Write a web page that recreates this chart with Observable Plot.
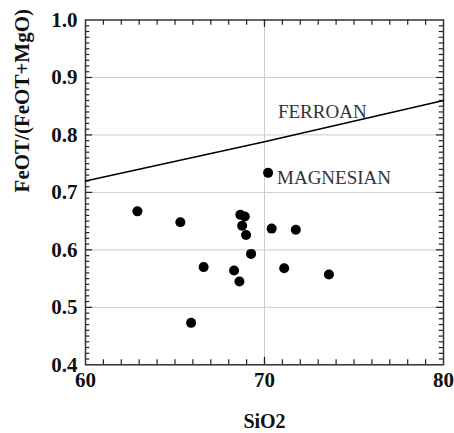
<!DOCTYPE html>
<html><head><meta charset="utf-8">
<script src="https://cdn.jsdelivr.net/npm/d3@7"></script>
<script src="https://cdn.jsdelivr.net/npm/@observablehq/plot@0.6"></script>
<style>body{margin:0;background:#fff}</style>
</head><body><div id="chart"></div>
<script>
const sio2 = [62.9, 65.3, 65.9, 66.6, 68.3, 68.6, 68.65, 68.9, 68.75, 68.97, 69.25, 70.2, 70.4, 71.1, 71.75, 73.6];
const ratio = [0.667, 0.648, 0.473, 0.570, 0.564, 0.545, 0.661, 0.658, 0.642, 0.626, 0.593, 0.734, 0.637, 0.568, 0.635, 0.557];
const boundaryX = [60, 70, 80];
const boundaryY = [0.72, 0.788, 0.86];
const xTicks = [60, 70, 80];
const yTicks = [0.4, 0.5, 0.6, 0.7, 0.8, 0.9, 1.0];
const fieldLabels = ["FERROAN", "MAGNESIAN"];
const fieldX = [70.75, 70.7];
const fieldY = [0.84, 0.725];

const pts = sio2.map((x, i) => ({x, y: ratio[i]}));
const line = boundaryX.map((x, i) => ({x, y: boundaryY[i]}));
const minorX = d3.range(61, 80, 1);
const minorY = d3.range(41, 100, 1).map(d => d / 100).filter(d => Math.round(d * 100) % 10 !== 0);
const majorYin = [0.5, 0.6, 0.7, 0.8, 0.9];

const xt = (vals, y1, y2) => vals.map(x => ({x, y1, y2}));
const yt = (vals, x1, x2) => vals.map(y => ({y, x1, x2}));

const serif = "Liberation Serif";
const tk = {stroke: "#222", strokeWidth: 1.2};
const chart = Plot.plot({
  width: 454, height: 433,
  marginLeft: 85, marginRight: 11, marginTop: 19.5, marginBottom: 68.7,
  x: {domain: [60, 80]},
  y: {domain: [0.4, 1.0]},
  style: {fontFamily: serif, fontSize: "20px", fontWeight: "bold", color: "#111", background: "#fff"},
  marks: [
    Plot.ruleY(majorYin, {stroke: "#ccc", strokeWidth: 1}),
    Plot.ruleX([70], {stroke: "#ccc", strokeWidth: 1}),
    Plot.ruleX(xt(minorX, 0.4, 0.409), {x: "x", y1: "y1", y2: "y2", ...tk}),
    Plot.ruleX(xt(minorX, 1.0, 0.991), {x: "x", y1: "y1", y2: "y2", ...tk}),
    Plot.ruleX(xt([70], 0.4, 0.413), {x: "x", y1: "y1", y2: "y2", ...tk}),
    Plot.ruleX(xt([70], 1.0, 0.987), {x: "x", y1: "y1", y2: "y2", ...tk}),
    Plot.ruleY(yt(minorY, 60, 60.24), {y: "y", x1: "x1", x2: "x2", ...tk}),
    Plot.ruleY(yt(minorY, 80, 79.76), {y: "y", x1: "x1", x2: "x2", ...tk}),
    Plot.ruleY(yt(majorYin, 60, 60.4), {y: "y", x1: "x1", x2: "x2", ...tk}),
    Plot.ruleY(yt(majorYin, 80, 79.6), {y: "y", x1: "x1", x2: "x2", ...tk}),
    Plot.frame({stroke: "#333", strokeWidth: 1.5}),
    Plot.line(line, {x: "x", y: "y", stroke: "#000", strokeWidth: 1.6}),
    Plot.dot(pts, {x: "x", y: "y", r: 5, fill: "#000", stroke: "none"}),
    Plot.text(fieldLabels, {x: (d, i) => fieldX[i], y: (d, i) => fieldY[i], text: d => d, textAnchor: "start",
      fontSize: 19, fontWeight: "normal", fontFamily: serif, fill: "#333", style: "letter-spacing:3.2px"}),
    Plot.axisX(xTicks, {tickSize: 0, tickPadding: 7, label: null, fill: "#111", fontWeight: "bold", fontSize: 21, fontFamily: serif}),
    Plot.axisY(yTicks, {tickSize: 0, tickPadding: 8, label: null, tickFormat: d3.format(".1f"), fill: "#111", fontWeight: "bold", fontSize: 21, fontFamily: serif}),
    Plot.text(["SiO2"], {frameAnchor: "bottom", dy: 63, lineAnchor: "bottom", fontSize: 20, fontWeight: "bold", fontFamily: serif, fill: "#111"}),
    Plot.text(["FeOT/(FeOT+MgO)"], {frameAnchor: "left", dx: -63, rotate: -90, fontSize: 21, fontWeight: "bold", fontFamily: serif, fill: "#111"})
  ]
});
document.getElementById("chart").appendChild(chart);
</script>
</body></html>
